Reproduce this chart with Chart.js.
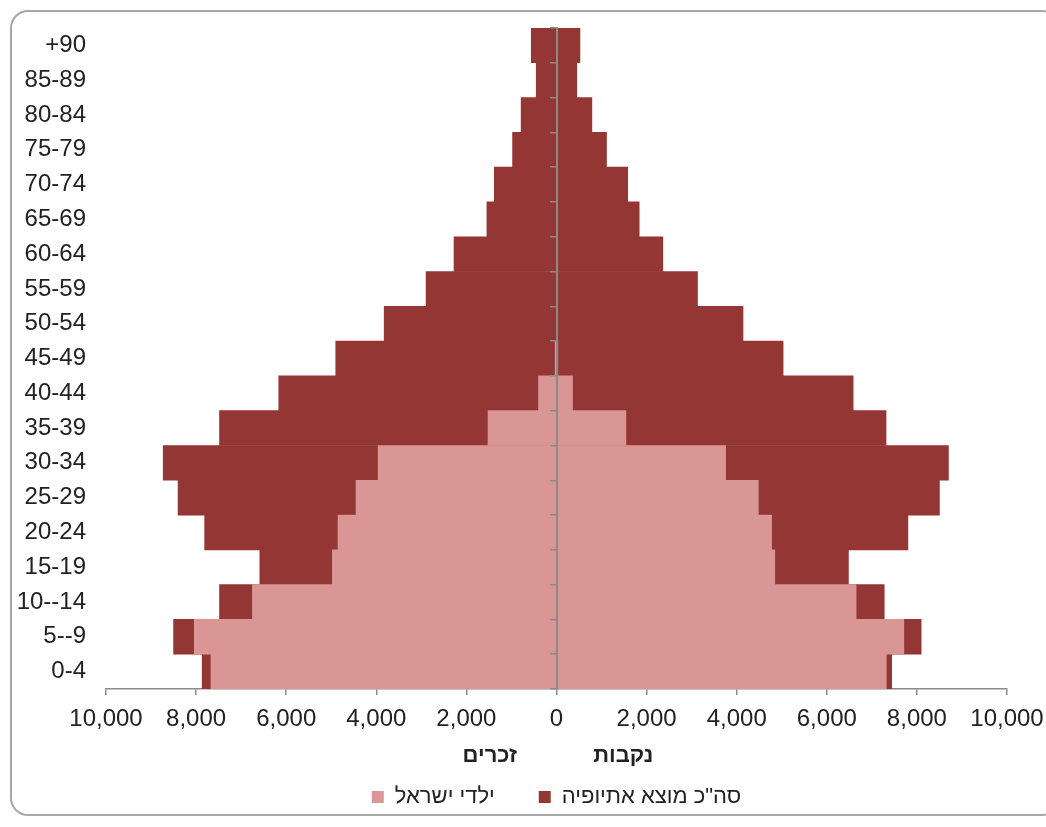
<!DOCTYPE html>
<html>
<head>
<meta charset="utf-8">
<script src="https://cdn.jsdelivr.net/npm/chart.js@4.4.1/dist/chart.umd.min.js"></script>
<style>
  body { margin: 0; background: #fff; }
  #wrap { position: relative; width: 1046px; height: 827px; overflow: hidden; }
  #frame {
    position: absolute; left: 10px; top: 10px; width: 1050px; height: 806px;
    border: 2px solid #a8a8a8; border-radius: 18px; box-sizing: border-box;
  }
  canvas { position: absolute; left: 0; top: 0; }
</style>
</head>
<body>
<div id="wrap">
  <div id="frame"></div>
  <canvas id="pyramid" width="1046" height="827"></canvas>
</div>
<script>
// קבוצות גיל, מלמעלה למטה
const ageGroups = ['+90', '85-89', '80-84', '75-79', '70-74', '65-69', '60-64', '55-59', '50-54',
  '45-49', '40-44', '35-39', '30-34', '25-29', '20-24', '15-19', '10--14', '5--9', '0-4'];

// סה"כ מוצא אתיופיה
const malesTotal   = [560, 450, 785, 975, 1380, 1545, 2275, 2895, 3825, 4900, 6165, 7480, 8730, 8400, 7810, 6585, 7480, 8500, 7865];
const femalesTotal = [520, 450, 785, 1110, 1580, 1835, 2360, 3130, 4140, 5030, 6585, 7315, 8700, 8500, 7800, 6480, 7275, 8095, 7440];

// ילדי ישראל
const malesIsrael   = [0, 0, 0, 0, 0, 0, 0, 0, 0, 30, 400, 1520, 3960, 4450, 4850, 4975, 6750, 8040, 7670];
const femalesIsrael = [0, 0, 0, 0, 0, 0, 0, 0, 0, 30, 355, 1540, 3755, 4480, 4775, 4845, 6650, 7710, 7320];

const xTicks = [-10000, -8000, -6000, -4000, -2000, 0, 2000, 4000, 6000, 8000, 10000];

const FONT = "'Liberation Sans', Arial, sans-serif";
const AXIS = '#8a8a8a';
const TEXT = '#222222';

// bar from -male to +female (nothing when both are empty)
const span = (m, f) => m.map((v, i) => (v || f[i]) ? [-v, f[i]] : null);

// כותרות זכרים / נקבות מתחת לציר
const sideTitles = {
  id: 'sideTitles',
  afterDraw(chart) {
    const { ctx, scales: { x } } = chart;
    ctx.save();
    ctx.font = 'bold 22px ' + FONT;
    ctx.fillStyle = TEXT;
    ctx.textAlign = 'center';
    ctx.textBaseline = 'middle';
    const y = x.top + 67;
    ctx.fillText('זכרים', x.getPixelForValue(-1480), y);
    ctx.fillText('נקבות', x.getPixelForValue(1480), y);
    ctx.restore();
  }
};

new Chart(document.getElementById('pyramid'), {
  type: 'bar',
  data: {
    labels: ageGroups,
    datasets: [
      {
        label: 'ילדי ישראל',
        data: span(malesIsrael, femalesIsrael),
        backgroundColor: '#d99694',
        borderWidth: 0
      },
      {
        label: 'סה"כ מוצא אתיופיה',
        data: span(malesTotal, femalesTotal),
        backgroundColor: '#943634',
        borderWidth: 0
      }
    ]
  },
  options: {
    indexAxis: 'y',
    responsive: false,
    animation: false,
    devicePixelRatio: 1,
    layout: { padding: { left: 10, right: 39, top: 28, bottom: 9 } },
    datasets: { bar: { grouped: false, barPercentage: 1, categoryPercentage: 1 } },
    scales: {
      x: {
        min: -10000,
        max: 10000,
        afterBuildTicks: s => { s.ticks = xTicks.map(v => ({ value: v })); },
        afterFit: s => { s.height = 53; s.paddingLeft = 0; s.paddingRight = 0; },
        grid: { drawOnChartArea: false, drawTicks: true, tickLength: 6, color: AXIS, lineWidth: 1.5 },
        border: { display: true, color: AXIS, width: 1.5 },
        ticks: {
          padding: 10,
          color: TEXT,
          font: { family: FONT, size: 24 },
          callback: v => Math.abs(v).toLocaleString('en-US')
        }
      },
      y: {
        type: 'category',
        offset: true,
        afterFit: s => { s.width = 96; s.paddingTop = 0; s.paddingBottom = 0; },
        grid: { display: false, drawTicks: false },
        border: { display: false },
        ticks: { padding: 20, color: TEXT, font: { family: FONT, size: 24 } }
      },
      yMid: {
        type: 'category',
        axis: 'y',
        offset: true,
        position: { x: 0 },
        grid: { z: 1, offset: true, drawOnChartArea: false, drawTicks: true, tickLength: 6, color: AXIS, lineWidth: 1.5 },
        border: { z: 1, display: true, color: AXIS, width: 2 },
        ticks: { display: false }
      }
    },
    plugins: {
      legend: {
        position: 'bottom',
        fullSize: false,
        labels: {
          boxWidth: 12,
          boxHeight: 12,
          padding: 44,
          color: TEXT,
          font: { family: FONT, size: 22 }
        }
      },
      tooltip: { enabled: false }
    }
  },
  plugins: [sideTitles]
});
</script>
</body>
</html>
